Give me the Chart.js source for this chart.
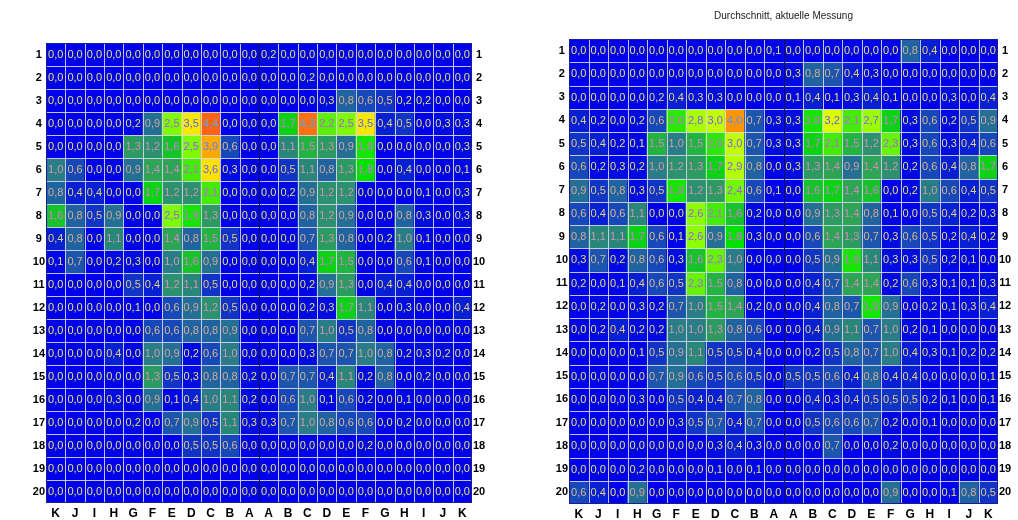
<!DOCTYPE html>
<html>
<head>
<meta charset="utf-8">
<title>Durchschnitt, aktuelle Messung</title>
<script src="https://cdn.jsdelivr.net/npm/chart.js@4.4.1/dist/chart.umd.min.js"></script>
<style>
  body { margin: 0; background: #fff; }
  #wrap { position: relative; width: 1018px; height: 520px; }
  canvas { position: absolute; top: 0; }
</style>
</head>
<body>
<div id="wrap">
  <canvas id="links" width="509" height="520" style="left:0"></canvas>
  <canvas id="rechts" width="509" height="520" style="left:509px"></canvas>
</div>
<script>
const columns = ["K", "J", "I", "H", "G", "F", "E", "D", "C", "B", "A", "A", "B", "C", "D", "E", "F", "G", "H", "I", "J", "K"];
const rowLabels = ["1", "2", "3", "4", "5", "6", "7", "8", "9", "10", "11", "12", "13", "14", "15", "16", "17", "18", "19", "20"];
const titleRight = "Durchschnitt, aktuelle Messung";

// linke Karte (ohne Titel)
const valuesLeft = [
  [0, 0, 0, 0, 0, 0, 0, 0, 0, 0, 0, 0.2, 0, 0, 0, 0, 0, 0, 0, 0, 0, 0],
  [0, 0, 0, 0, 0, 0, 0, 0, 0, 0, 0, 0, 0, 0.2, 0, 0, 0, 0, 0, 0, 0, 0],
  [0, 0, 0, 0, 0, 0, 0, 0, 0, 0, 0, 0, 0, 0, 0.3, 0.8, 0.6, 0.5, 0.2, 0.2, 0, 0],
  [0, 0, 0, 0, 0.2, 0.9, 2.5, 3.5, 4.4, 0, 0, 0, 1.7, 4.3, 2.2, 2.5, 3.5, 0.4, 0.5, 0, 0.3, 0.3],
  [0, 0, 0, 0, 1.3, 1.2, 1.6, 2.5, 3.9, 0.6, 0, 0, 1.1, 1.5, 1.3, 0.9, 1.9, 0, 0, 0, 0, 0.3],
  [1.0, 0.6, 0, 0, 0.9, 1.4, 1.4, 2.1, 3.6, 0.3, 0, 0, 0.5, 1.1, 0.8, 1.3, 1.8, 0, 0.4, 0, 0, 0.1],
  [0.8, 0.4, 0.4, 0, 0, 1.7, 1.2, 1.2, 2.1, 0, 0, 0, 0.2, 0.9, 1.2, 1.2, 0, 0, 0, 0.1, 0, 0.3],
  [1.6, 0.8, 0.5, 0.9, 0, 0, 2.5, 1.9, 1.3, 0, 0, 0, 0, 0.8, 1.2, 0.9, 0, 0, 0.8, 0.3, 0, 0.3],
  [0.4, 0.8, 0, 1.1, 0, 0, 1.4, 0.8, 1.5, 0.5, 0, 0, 0, 0.7, 1.3, 0.8, 0, 0.2, 1.0, 0.1, 0, 0],
  [0.1, 0.7, 0, 0.2, 0.3, 0, 1.0, 1.6, 0.9, 0, 0, 0, 0, 0.4, 1.7, 1.5, 0, 0, 0.6, 0.1, 0, 0],
  [0, 0, 0, 0, 0.5, 0.4, 1.2, 1.1, 0.5, 0, 0, 0, 0, 0.2, 0.9, 1.3, 0, 0.4, 0.4, 0, 0, 0],
  [0, 0, 0, 0, 0.1, 0, 0.6, 0.9, 1.2, 0.5, 0, 0, 0, 0.2, 0.3, 1.7, 1.1, 0, 0.3, 0, 0, 0.4],
  [0, 0, 0, 0, 0, 0.6, 0.6, 0.8, 0.8, 0.9, 0, 0, 0, 0.7, 1.0, 0.5, 0.8, 0, 0, 0, 0, 0],
  [0, 0, 0, 0.4, 0, 1.0, 0.9, 0.2, 0.6, 1.0, 0, 0, 0, 0.3, 0.7, 0.7, 1.0, 0.8, 0.2, 0.3, 0.2, 0],
  [0, 0, 0, 0, 0, 1.3, 0.5, 0.3, 0.8, 0.8, 0.2, 0, 0.7, 0.7, 0.4, 1.1, 0.2, 0.8, 0, 0.2, 0, 0],
  [0, 0, 0, 0.3, 0, 0.9, 0.1, 0.4, 1.0, 1.1, 0.2, 0, 0.6, 1.0, 0.1, 0.6, 0.2, 0, 0.1, 0, 0, 0],
  [0, 0, 0, 0, 0.2, 0, 0.7, 0.9, 0.5, 1.1, 0.3, 0.3, 0.7, 1.0, 0.8, 0.6, 0.6, 0, 0.2, 0, 0, 0],
  [0, 0, 0, 0, 0, 0, 0, 0.5, 0.5, 0.6, 0, 0, 0, 0, 0, 0, 0.2, 0, 0, 0, 0, 0],
  [0, 0, 0, 0, 0, 0, 0, 0, 0, 0, 0, 0, 0, 0, 0, 0, 0, 0, 0, 0, 0, 0],
  [0, 0, 0, 0, 0, 0, 0, 0, 0, 0, 0, 0, 0, 0, 0, 0, 0, 0, 0, 0, 0, 0]
];

// rechte Karte: Durchschnitt, aktuelle Messung
const valuesRight = [
  [0, 0, 0, 0, 0, 0, 0, 0, 0, 0, 0.1, 0, 0, 0, 0, 0, 0, 0.8, 0.4, 0, 0, 0],
  [0, 0, 0, 0, 0, 0, 0, 0, 0, 0, 0, 0.3, 0.8, 0.7, 0.4, 0.3, 0, 0, 0, 0, 0, 0],
  [0, 0, 0, 0, 0.2, 0.4, 0.3, 0.3, 0, 0, 0, 0.1, 0.4, 0.1, 0.3, 0.4, 0.1, 0, 0, 0.3, 0, 0.4],
  [0.4, 0.2, 0, 0.2, 0.6, 2.0, 2.8, 3.0, 4.0, 0.7, 0.3, 0.3, 1.9, 3.2, 2.1, 2.7, 1.7, 0.3, 0.6, 0.2, 0.5, 0.9],
  [0.5, 0.4, 0.2, 0.1, 1.5, 1.0, 1.5, 2.0, 3.0, 0.7, 0.3, 0.3, 1.7, 2.1, 1.5, 1.2, 2.3, 0.3, 0.6, 0.3, 0.4, 0.6],
  [0.6, 0.2, 0.3, 0.2, 1.0, 1.2, 1.3, 1.7, 2.9, 0.8, 0, 0.3, 1.3, 1.4, 0.9, 1.4, 1.2, 0.2, 0.6, 0.4, 0.8, 1.7],
  [0.9, 0.5, 0.8, 0.3, 0.5, 1.9, 1.2, 1.3, 2.4, 0.6, 0.1, 0, 1.6, 1.7, 1.4, 1.6, 0, 0.2, 1.0, 0.6, 0.4, 0.5],
  [0.6, 0.4, 0.6, 1.1, 0, 0, 2.6, 2.1, 1.6, 0.2, 0, 0, 0.9, 1.3, 1.4, 0.8, 0.1, 0, 0.5, 0.4, 0.2, 0.3],
  [0.8, 1.1, 1.1, 1.7, 0.6, 0.1, 2.6, 0.9, 1.8, 0.3, 0, 0, 0.6, 1.4, 1.3, 0.7, 0.3, 0.6, 0.5, 0.2, 0.4, 0.2],
  [0.3, 0.7, 0.2, 0.8, 0.6, 0.3, 1.6, 2.3, 1.0, 0, 0, 0, 0.5, 0.9, 1.9, 1.1, 0.3, 0.3, 0.5, 0.2, 0.1, 0],
  [0.2, 0, 0.1, 0.4, 0.6, 0.5, 2.3, 1.5, 0.8, 0, 0, 0, 0.4, 0.7, 1.4, 1.4, 0.2, 0.6, 0.3, 0.1, 0.1, 0.3],
  [0, 0.2, 0, 0.3, 0.2, 0.7, 1.0, 1.5, 1.4, 0.2, 0, 0, 0.4, 0.8, 0.7, 1.9, 0.9, 0, 0.2, 0.1, 0.3, 0.4],
  [0, 0.2, 0.4, 0.2, 0.2, 1.0, 1.0, 1.3, 0.8, 0.6, 0, 0, 0.4, 0.9, 1.1, 0.7, 1.0, 0.2, 0.1, 0, 0, 0],
  [0, 0, 0, 0.1, 0.5, 0.9, 1.1, 0.5, 0.5, 0.4, 0, 0, 0.2, 0.5, 0.8, 0.7, 1.0, 0.4, 0.3, 0.1, 0.2, 0.2],
  [0, 0, 0, 0, 0.7, 0.9, 0.6, 0.5, 0.6, 0.5, 0, 0.5, 0.5, 0.6, 0.4, 0.8, 0.4, 0.4, 0, 0, 0, 0.1],
  [0, 0, 0, 0.3, 0, 0.5, 0.4, 0.4, 0.7, 0.8, 0, 0, 0.4, 0.3, 0.4, 0.5, 0.5, 0.5, 0.2, 0.1, 0, 0.1],
  [0, 0, 0, 0, 0, 0.3, 0.5, 0.7, 0.4, 0.7, 0, 0, 0.5, 0.6, 0.6, 0.7, 0.2, 0, 0.1, 0, 0, 0],
  [0, 0, 0, 0, 0, 0, 0, 0.3, 0.4, 0.3, 0, 0, 0, 0.7, 0, 0, 0.2, 0, 0, 0, 0, 0],
  [0, 0, 0, 0.2, 0, 0, 0, 0.1, 0, 0.1, 0, 0, 0, 0, 0, 0, 0, 0, 0, 0, 0, 0],
  [0.6, 0.4, 0, 0.9, 0, 0, 0, 0, 0, 0, 0, 0, 0, 0, 0, 0, 0.9, 0, 0, 0.1, 0.8, 0.5]
];

const FONT = '"Liberation Sans", Arial, sans-serif';

// Farbskala blau -> gruen -> gelb -> orange
const colorStops = [
  [0, [0, 0, 235]],
  [0.3, [0, 12, 225]],
  [0.6, [22, 72, 185]],
  [1.0, [40, 125, 135]],
  [1.4, [45, 165, 85]],
  [1.8, [0, 225, 0]],
  [2.2, [90, 240, 0]],
  [2.6, [140, 255, 0]],
  [3.2, [220, 255, 0]],
  [3.6, [255, 225, 0]],
  [4.0, [255, 150, 0]],
  [4.4, [255, 100, 20]]
];

function rgbFor(v) {
  if (v <= colorStops[0][0]) return colorStops[0][1];
  for (let i = 1; i < colorStops.length; i++) {
    const [v1, c1] = colorStops[i];
    const [v0, c0] = colorStops[i - 1];
    if (v <= v1) {
      const t = (v - v0) / (v1 - v0);
      return c0.map((c, k) => Math.round(c + (c1[k] - c) * t));
    }
  }
  return colorStops[colorStops.length - 1][1];
}

const cellColor = (v) => `rgb(${rgbFor(v).join(",")})`;

// Text: invertierte Hintergrundfarbe, etwas gedaempft
function textColor(v) {
  const base = [200, 190, 220];
  const c = rgbFor(v).map((x, k) => Math.round(0.55 * (255 - x) + 0.45 * base[k]));
  return `rgb(${c.join(",")})`;
}

function heatPlugin(values) {
  return {
    id: "heatCells",
    afterDatasetsDraw(chart) {
      const { ctx, chartArea: a } = chart;
      const x = chart.scales.x;
      const y = chart.scales.y;
      const half = (x.getPixelForValue(1) - x.getPixelForValue(0)) / 2;
      ctx.save();

      ctx.strokeStyle = "rgba(215,215,235,0.9)";
      ctx.lineWidth = 1;
      ctx.beginPath();
      for (let i = 1; i < columns.length; i++) {
        const px = Math.round(x.getPixelForValue(i) - half) + 0.5;
        ctx.moveTo(px, a.top);
        ctx.lineTo(px, a.bottom);
      }
      for (let r = 1; r < rowLabels.length; r++) {
        const py = Math.round(y.getPixelForValue(r)) + 0.5;
        ctx.moveTo(a.left, py);
        ctx.lineTo(a.right, py);
      }
      ctx.stroke();

      // Mittellinie zwischen den beiden A
      const mid = Math.round(x.getPixelForValue(columns.length / 2) - half) + 0.5;
      ctx.strokeStyle = "#10104a";
      ctx.beginPath();
      ctx.moveTo(mid, a.top);
      ctx.lineTo(mid, a.bottom);
      ctx.stroke();

      ctx.font = "11px " + FONT;
      ctx.textAlign = "center";
      ctx.textBaseline = "middle";
      chart.data.datasets.forEach((ds, r) => {
        chart.getDatasetMeta(r).data.forEach((bar, c) => {
          const v = values[r][c];
          ctx.fillStyle = textColor(v);
          ctx.fillText(v.toFixed(1).replace(".", ","), bar.x, (bar.y + bar.base) / 2 + 0.5);
        });
      });

      ctx.strokeStyle = "#1c1c8c";
      ctx.strokeRect(Math.round(a.left) + 0.5, Math.round(a.top) + 0.5,
        Math.round(a.right - a.left) - 1, Math.round(a.bottom - a.top) - 1);
      ctx.restore();
    }
  };
}

function yAxis(position, w) {
  return {
    type: "linear",
    position,
    min: 0,
    max: rowLabels.length,
    reverse: true,
    grid: { display: false, drawTicks: false },
    border: { display: false },
    afterBuildTicks: (s) => {
      s.ticks = rowLabels.map((_, i) => ({ value: i + 0.5 }));
    },
    ticks: {
      autoSkip: false,
      padding: 1,
      crossAlign: "center",
      color: "#000",
      font: { family: FONT, size: 11, weight: "bold" },
      callback: (v, i) => rowLabels[i]
    },
    afterFit: (s) => { s.width = w; }
  };
}

function makeHeatmap(id, values, cfg) {
  return new Chart(document.getElementById(id), {
    type: "bar",
    data: {
      labels: columns,
      datasets: values.map((row, r) => ({
        label: rowLabels[r],
        data: row.map(() => [r, r + 1]),
        backgroundColor: row.map(cellColor),
        borderWidth: 0,
        grouped: false,
        barPercentage: 1,
        categoryPercentage: 1
      }))
    },
    options: {
      responsive: false,
      animation: false,
      layout: { padding: { top: cfg.top, left: 0, right: 0, bottom: 0 } },
      plugins: {
        legend: { display: false },
        tooltip: { enabled: false },
        title: cfg.title
          ? {
              display: true,
              text: cfg.title,
              fullSize: false,
              color: "#222",
              font: { family: FONT, size: 10, weight: "normal" },
              padding: { top: 10, bottom: 17 }
            }
          : { display: false }
      },
      scales: {
        x: {
          type: "category",
          grid: { display: false, drawTicks: false },
          border: { display: false },
          ticks: {
            autoSkip: false,
            maxRotation: 0,
            padding: 3,
            color: "#000",
            font: { family: FONT, size: 12, weight: "bold" }
          },
          afterFit: (s) => { s.height = cfg.bottom; }
        },
        y: yAxis("left", cfg.leftW),
        y2: yAxis("right", cfg.rightW)
      }
    },
    plugins: [heatPlugin(values)]
  });
}

makeHeatmap("links", valuesLeft, { top: 43, bottom: 17, leftW: 46, rightW: 37 });
makeHeatmap("rechts", valuesRight, { top: 0, bottom: 16, leftW: 60, rightW: 20, title: titleRight });
</script>
</body>
</html>
